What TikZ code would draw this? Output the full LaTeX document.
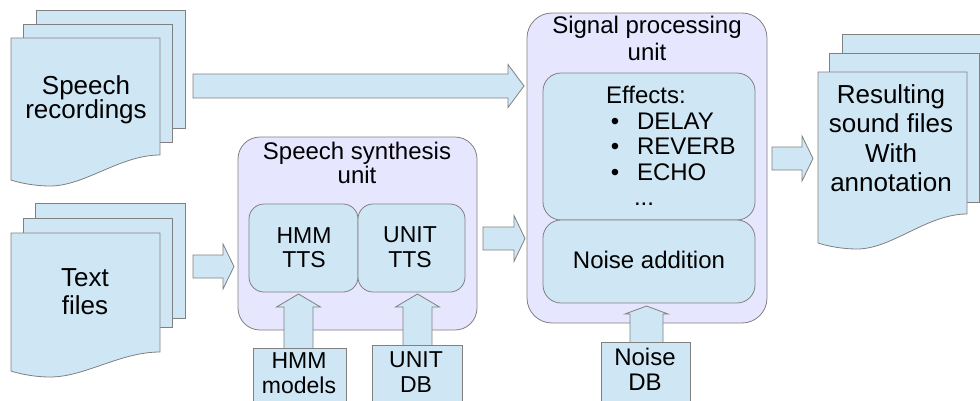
\documentclass[tikz,border=0pt]{standalone}
\usepackage{fontspec}
\setmainfont{Liberation Sans}
\definecolor{pageblue}{RGB}{207,231,245}
\definecolor{lav}{RGB}{230,230,255}
\definecolor{edgegray}{RGB}{128,128,128}
\tikzset{
  pagebox/.style={draw=edgegray, fill=pageblue, line width=0.8pt},
  unitbox/.style={draw=edgegray, fill=lav, line width=0.8pt, rounded corners=22pt},
  innerbox/.style={draw=edgegray, fill=pageblue, line width=0.8pt, rounded corners=15pt},
  blk/.style={draw=edgegray, fill=pageblue, line width=0.8pt},
  lbl/.style={anchor=base, inner sep=0pt, outer sep=0pt},
  fA/.style={font=\fontsize{24}{28}\selectfont},
  fB/.style={font=\fontsize{26}{30}\selectfont},
  fC/.style={font=\fontsize{23}{27}\selectfont},
}
% front page of a document stack: x, y, w, left height, right height
\newcommand{\docfront}[5]{%
  \begin{scope}[shift={(#1,#2)}]
    \path[pagebox] (0,0) -- (#3,0) -- (#3,#5)
      .. controls (#3-40,#5) and (74,#4+6) .. (39,#4+6)
      .. controls (24,#4+6) and (9,#4+3) .. (0,#4) -- cycle;
  \end{scope}}
% right block arrow: x0, x1, xtip, yc, body half, head half
\newcommand{\rarrow}[6]{%
  \path[blk] (#1,#4-#5) -- (#2,#4-#5) -- (#2,#4-#6) -- (#3,#4)
    -- (#2,#4+#6) -- (#2,#4+#5) -- (#1,#4+#5) -- cycle;}
% up block arrow: xc, ybottom, yheadbase, ytip, body half, head half
\newcommand{\uarrow}[6]{%
  \path[blk] (#1-#5,#2) -- (#1-#5,#3) -- (#1-#6,#3) -- (#1,#4)
    -- (#1+#6,#3) -- (#1+#5,#3) -- (#1+#5,#2) -- cycle;}
\begin{document}
\begin{tikzpicture}[x=1pt, y=-1pt]
\useasboundingbox (0,0) rectangle (980,400);
\fill[white] (0,0) rectangle (980,400);

% ---- Speech recordings stack
\path[pagebox] (36,10) rectangle (185,128);
\path[pagebox] (23,24) rectangle (172,142);
\docfront{11}{38}{149}{142}{117}
\node[lbl,fB] (rec1) at (86,94) {Speech};
\node[lbl,fB] (rec2) at (86,118) {recordings};

% ---- Text files stack
\path[pagebox] (35,203) rectangle (185,318);
\path[pagebox] (23,218) rectangle (172,327);
\docfront{11}{233}{149}{138}{119}
\node[lbl,fB] (txt1) at (85,286) {Text};
\node[lbl,fB] (txt2) at (85,314) {files};

% ---- Resulting files stack
\path[pagebox] (842,34) rectangle (992,183);
\path[pagebox] (829,53) rectangle (979,202);
\docfront{818}{72}{149}{171}{142}
\node[lbl,fB] (res1) at (891,103) {Resulting};
\node[lbl,fB] (res2) at (891,132) {sound files};
\node[lbl,fB] (res3) at (891,162) {With};
\node[lbl,fB] (res4) at (891,191) {annotation};

% ---- Speech synthesis unit
\draw[unitbox] (238,137) rectangle (477,330);
\node[lbl,fA] (syn1) at (357,159) {Speech synthesis};
\node[lbl,fA] (syn2) at (357,183) {unit};
\draw[innerbox] (249,204) rectangle (358,292);
\draw[innerbox] (358,204) rectangle (465,292);
\node[lbl,fC] (hmm1) at (304,243) {HMM};
\node[lbl,fC] (hmm2) at (304,267) {TTS};
\node[lbl,fC] (ut1) at (410,242) {UNIT};
\node[lbl,fC] (ut2) at (410,267) {TTS};

% ---- Signal processing unit
\draw[unitbox, rounded corners=25pt] (527,13) rectangle (767,323);
\node[lbl,fA] (sig1) at (647,33) {Signal processing};
\node[lbl,fA] (sig2) at (647,60) {unit};
\draw[innerbox, rounded corners=18pt] (543,73) rectangle (755,220);
\draw[innerbox, rounded corners=18pt] (543,220) rectangle (755,303);
\node[lbl,fA] (eff) at (646,103) {Effects:};
\node[lbl,fA] (b1) at (615,129) {•};
\node[lbl,fA] (b2) at (615,154) {•};
\node[lbl,fA] (b3) at (615,180) {•};
\node[lbl,fA,anchor=base west] (e1) at (637,129) {DELAY};
\node[lbl,fA,anchor=base west] (e2) at (637,154) {REVERB};
\node[lbl,fA,anchor=base west] (e3) at (637,180) {ECHO};
\node[lbl,fA] (e4) at (644,205) {...};
\node[lbl,fA] (noise) at (649,268) {Noise addition};

% ---- block arrows
\rarrow{193}{508}{524}{86}{12}{21.5}
\rarrow{193}{223}{234}{266.5}{11.5}{22.5}
\rarrow{483}{514}{525}{238.5}{11.5}{23}
\rarrow{772}{802}{813}{158.5}{11.5}{22.5}
\uarrow{298.5}{350}{307}{294}{14.5}{22}
\uarrow{417.5}{347}{307}{294}{14.5}{22}
\uarrow{646.5}{344}{314}{306}{16.5}{21.5}

% ---- databases
\path[pagebox] (253,348) rectangle (346,410);
\node[lbl,fC] (hm1) at (299,368) {HMM};
\node[lbl,fC] (hm2) at (299,393) {models};
\path[pagebox] (372,345) rectangle (462,410);
\node[lbl,fC] (ud1) at (416,367) {UNIT};
\node[lbl,fC] (ud2) at (416,392) {DB};
\path[pagebox] (601,342) rectangle (690,410);
\node[lbl,fA] (nd1) at (645,365) {Noise};
\node[lbl,fA] (nd2) at (645,390) {DB};
\end{tikzpicture}
\end{document}
